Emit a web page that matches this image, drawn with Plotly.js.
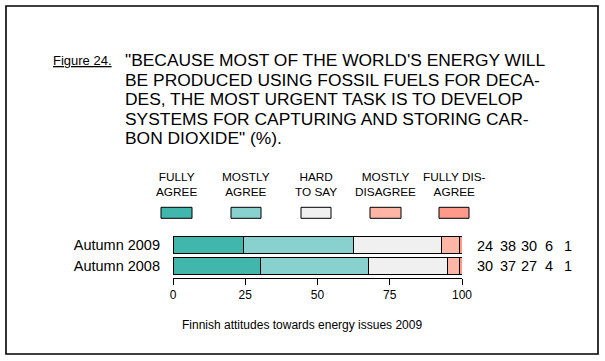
<!DOCTYPE html>
<html>
<head>
<meta charset="utf-8">
<script src="https://cdn.plot.ly/plotly-3.0.1.min.js"></script>
<style>html,body{margin:0;padding:0;background:#fff;}#chart{width:605px;height:361px;}</style>
</head>
<body>
<div id="chart"></div>
<script>
// ---- data ----
const years = ['Autumn 2008', 'Autumn 2009'];
const responses = ['FULLY<br>AGREE', 'MOSTLY<br>AGREE', 'HARD<br>TO SAY', 'MOSTLY<br>DISAGREE', 'FULLY DIS-<br>AGREE'];
const fullyAgree     = [30, 24];
const mostlyAgree    = [37, 38];
const hardToSay      = [27, 30];
const mostlyDisagree = [4, 6];
const fullyDisagree  = [1, 1];
const colors = ['#41b6ac', '#89d1ce', '#f0f0f0', '#fdb6a6', '#fe9a8a'];
const xTicks = [0, 25, 50, 75, 100];
const titleLines = [
  '"BECAUSE MOST OF THE WORLD\'S ENERGY WILL',
  'BE PRODUCED USING FOSSIL FUELS FOR DECA-',
  'DES, THE MOST URGENT TASK IS TO DEVELOP',
  'SYSTEMS FOR CAPTURING AND STORING CAR-',
  'BON DIOXIDE" (%).'
];
const figLabel = 'Figure 24.';
const caption = 'Finnish attitudes towards energy issues 2009';

const series = [fullyAgree, mostlyAgree, hardToSay, mostlyDisagree, fullyDisagree];

// ---- geometry helpers (pixel -> paper) ----
const L = 173, R = 143, T = 234, B = 83, Wd = 605, Ht = 361;
const PW = Wd - L - R, PH = Ht - T - B;
const px = v => (v - L) / PW;
const py = v => (Ht - B - v) / PH;
const FONT = 'Liberation Sans, Arial, sans-serif';

const traces = series.map((vals, i) => ({
  type: 'bar', orientation: 'h',
  y: years, x: vals,
  name: responses[i],
  width: 0.81,
  marker: {color: colors[i], line: {color: '#000', width: 1}},
  hoverinfo: 'skip', showlegend: false
}));

const annotations = [];
const shapes = [];

// figure label + title
annotations.push({xref: 'paper', yref: 'paper', x: px(51), y: py(60), xanchor: 'left', yanchor: 'middle',
  text: '<u>' + figLabel + '</u>', showarrow: false, font: {family: FONT, size: 13, color: '#000'}});
const titleY = [60.3, 79.7, 99.3, 118.8, 138.3];
titleLines.forEach((t, i) => annotations.push({xref: 'paper', yref: 'paper', x: px(123), y: py(titleY[i]),
  xanchor: 'left', yanchor: 'middle', text: t, showarrow: false, font: {family: FONT, size: 17.4, color: '#000'}}));

// legend (labels above boxes)
const boxX = [[161, 192], [231, 261], [301, 331], [370, 401], [439, 469]];
boxX.forEach((b, i) => {
  shapes.push({type: 'rect', xref: 'paper', yref: 'paper', x0: px(b[0]), x1: px(b[1]), y0: py(218.3), y1: py(207.3),
    fillcolor: colors[i], line: {color: '#000', width: 1}});
  annotations.push({xref: 'paper', yref: 'paper', x: px((b[0] + b[1]) / 2), y: py(184.3), xanchor: 'center', yanchor: 'middle',
    text: responses[i], showarrow: false, align: 'center', font: {family: FONT, size: 11.8, color: '#000'}});
});

// value columns on the right
const colX = [485, 507.5, 529, 549, 568];
const rowY = {'Autumn 2009': 245.5, 'Autumn 2008': 266};
years.forEach((yr, r) => {
  series.forEach((vals, i) => annotations.push({xref: 'paper', yref: 'paper', x: px(colX[i]), y: py(rowY[yr]),
    xanchor: 'center', yanchor: 'middle', text: String(vals[r]), showarrow: false,
    font: {family: FONT, size: 14.5, color: '#000'}}));
});

// caption
annotations.push({xref: 'paper', yref: 'paper', x: px(302), y: py(325), xanchor: 'center', yanchor: 'middle',
  text: caption, showarrow: false, font: {family: FONT, size: 12, color: '#000'}});

// frame
shapes.push({type: 'rect', xref: 'paper', yref: 'paper', x0: px(6), x1: px(598), y0: py(354), y1: py(6),
  line: {color: '#000', width: 1.6}, fillcolor: 'rgba(0,0,0,0)'});

const layout = {
  width: Wd, height: Ht,
  margin: {l: L, r: R, t: T, b: B, pad: 0},
  paper_bgcolor: '#fff', plot_bgcolor: '#fff',
  barmode: 'stack', barnorm: 'percent',
  font: {family: FONT, color: '#000'},
  xaxis: {range: [0, 100], tickvals: xTicks, ticktext: xTicks.map(String), ticks: 'outside', ticklen: 6, tickwidth: 1,
    tickcolor: '#000', showline: true, linecolor: '#000', linewidth: 1, showgrid: false, zeroline: false,
    tickfont: {family: FONT, size: 12, color: '#000'}, fixedrange: true},
  yaxis: {type: 'category', categoryorder: 'array', categoryarray: years, range: [-0.56, 1.525],
    showline: false, showgrid: false, zeroline: false, ticks: '', ticklabelstandoff: 12,
    tickfont: {family: FONT, size: 14.5, color: '#000'}, fixedrange: true},
  annotations: annotations,
  shapes: shapes
};

Plotly.newPlot('chart', traces, layout, {displayModeBar: false, staticPlot: true});
</script>
</body>
</html>
